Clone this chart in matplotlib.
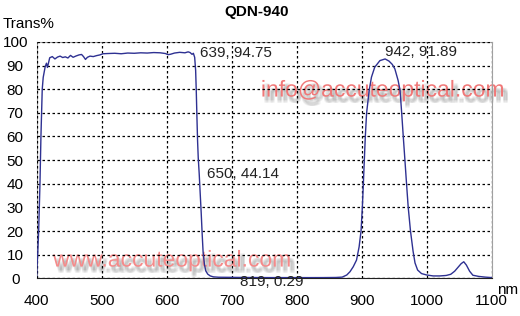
import matplotlib
matplotlib.use("Agg")
import matplotlib.pyplot as plt
import matplotlib.patheffects as pe

wavelength = [400, 400.5, 401.5, 403, 405, 406.5, 408.5, 410, 413, 415, 416.5, 420, 424, 428,
              432, 436, 440, 444, 448, 452, 456, 460, 465, 469, 472, 475, 478, 482, 487,
              492, 497, 502, 510, 520, 530, 540, 550, 560, 570, 580, 590, 598, 602, 606,
              612, 620, 628, 633, 636, 639, 641, 643, 644.5, 645.5, 646.5, 647.5, 648.5,
              650, 651.5, 653, 654.5, 656, 658, 660, 663, 667, 672, 680, 700, 720, 760,
              800, 819, 840, 860, 870, 877, 882, 887, 892, 896, 899, 901, 902.5, 904,
              905.5, 907.5, 911.5, 915, 920, 928, 936, 942, 947, 951, 956, 959, 961.5,
              964, 966.5, 969, 971.5, 975, 979, 982, 986, 992, 1000, 1010, 1020, 1030,
              1037, 1043, 1048, 1053, 1057, 1061, 1066, 1071, 1080, 1090, 1100]
transmission = [1.0, 5.0, 10.0, 20.0, 40.0, 60.0, 80.0, 85.0, 89.5, 91.0, 89.2, 93.3, 93.8, 92.8,
                93.6, 94.0, 93.4, 93.7, 93.2, 94.3, 93.5, 94.0, 94.5, 94.7, 93.8, 92.6, 93.5,
                94.0, 93.8, 94.2, 94.5, 95.0, 95.1, 95.2, 95.0, 95.3, 95.2, 95.4, 95.3, 95.5,
                95.4, 95.1, 94.6, 94.8, 95.3, 95.6, 95.4, 95.8, 95.5, 94.75, 95.2, 93.5, 88.0,
                79.0, 68.0, 58.0, 51.0, 44.14, 36.0, 28.0, 19.0, 11.0, 6.0, 3.2, 1.8, 1.0,
                0.6, 0.45, 0.4, 0.35, 0.3, 0.3, 0.29, 0.3, 0.35, 0.5, 1.4, 2.8, 4.9, 7.7,
                13.3, 20.1, 30.2, 39.8, 49.9, 59.7, 69.9, 79.5, 85.1, 89.3, 92.1, 92.8, 91.89,
                90.5, 88.6, 83.7, 79.5, 69.9, 59.7, 49.9, 39.8, 30.2, 20.1, 11.5, 6.5, 3.5,
                2.0, 1.4, 1.0, 1.0, 1.2, 1.7, 3.0, 4.6, 6.2, 7.0, 5.6, 3.0, 1.3, 0.8, 0.5, 0.3]

annot_text = ["639, 94.75", "650, 44.14", "942, 91.89", "819, 0.29"]
annot_x = [651, 662.5, 935.5, 713]
annot_y = [95.5, 44.0, 95.6, -1.4]

x_ticks = [400, 500, 600, 700, 800, 900, 1000, 1100]
y_ticks = [0, 10, 20, 30, 40, 50, 60, 70, 80, 90, 100]

plt.rcParams['font.family'] = ['Liberation Sans', 'DejaVu Sans']

fig = plt.figure(figsize=(5.2, 3.16), dpi=100)
ax = fig.add_axes([0.0706, 0.1193, 0.875, 0.748])

ax.plot(wavelength, transmission, color='#2e3192', linewidth=1.0, zorder=3)
ax.set_xlim(400, 1100)
ax.set_ylim(0, 100)
ax.set_xticks(x_ticks)
ax.set_yticks(y_ticks)
ax.tick_params(axis='both', length=0, labelsize=11, colors='black')
ax.tick_params(axis='x', pad=11)
ax.tick_params(axis='y', pad=15.5)
for lab in ax.get_yticklabels():
    lab.set_horizontalalignment('center')

ax.grid(True, color='black', linestyle=(0, (2, 2)), linewidth=0.9, zorder=2)
ax.set_axisbelow(False)
for s in ['top', 'right', 'left']:
    ax.spines[s].set_color('#a0a0a0')
ax.spines['bottom'].set_color('#202020')

for t, x, y in zip(annot_text, annot_x, annot_y):
    ax.text(x, y, t, fontsize=11, ha='left', va='center', color='#222222', zorder=4)

fig.text(0.494, 0.962, "QDN-940", fontsize=11, fontweight='bold', ha='center', va='center')
fig.text(0.006, 0.924, "Trans%", fontsize=11, ha='left', va='center')
fig.text(0.956, 0.082, "nm", fontsize=11, ha='left', va='center')

shadow = []
for dx in (1.5, 2.5, 3.5):
    for dy in (-2.5, -3.5, -4.5):
        shadow.append(pe.SimplePatchShadow(offset=(dx, dy), shadow_rgbFace='#707070', alpha=0.09))
shadow.append(pe.Normal())

ax.text(0.736, 0.715, "info@accuteoptical.com", fontsize=16.5, color='#f07878',
        ha='center', va='center', path_effects=shadow, zorder=1,
        transform=fig.transFigure, clip_on=False)
ax.text(0.331, 0.177, "www.accuteoptical.com", fontsize=16.5, color='#f58a8a',
        ha='center', va='center', path_effects=shadow, zorder=1,
        transform=fig.transFigure, clip_on=False)

fig.savefig("out.png", dpi=100)
